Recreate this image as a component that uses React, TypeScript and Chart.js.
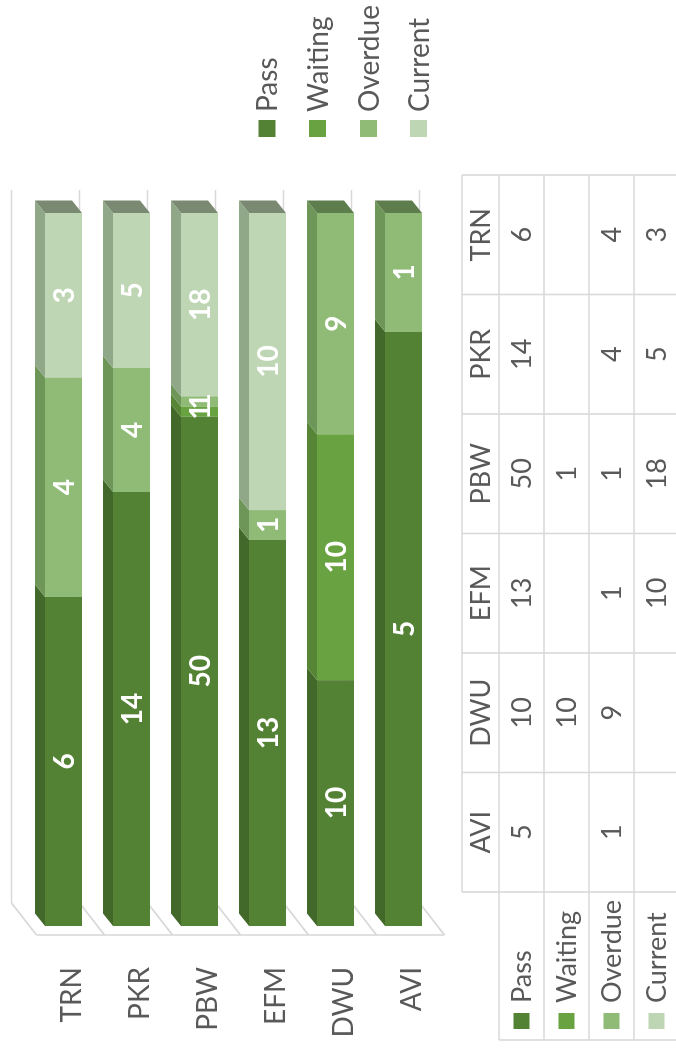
import { useEffect, useRef } from 'react';
import { Chart, registerables } from 'chart.js';

Chart.register(...registerables);

const categories = ['TRN', 'PKR', 'PBW', 'EFM', 'DWU', 'AVI'];
const seriesNames = ['Pass', 'Waiting', 'Overdue', 'Current'];
const passValues = [6, 14, 50, 13, 10, 5];
const waitingValues = [null, null, 1, null, 10, null];
const overdueValues = [4, 4, 1, 1, 9, 1];
const currentValues = [3, 5, 18, 10, null, null];
const tableColumns = ['AVI', 'DWU', 'EFM', 'PBW', 'PKR', 'TRN'];

const frontColors = ['#548235', '#69A240', '#8FBB77', '#BFD6B4'];
const topColors = ['#43692A', '#558535', '#6E9659', '#90A888'];
const capColors = ['#36551F', '#46702A', '#5E7D4C', '#7A8A72'];

const FONT = 'Lato, "Open Sans", sans-serif';
const TEXT = '#595959';
const LINE = '#D9D9D9';

const allSeries = [passValues, waitingValues, overdueValues, currentValues];
const totals = categories.map((_, i) =>
  allSeries.reduce((s, arr) => s + (arr[i] || 0), 0)
);
const pct = (arr: (number | null)[]) =>
  arr.map((v, i) => (v == null ? null : (v / totals[i]) * 100));

const DX = 12.5;
const DY = -10;

const threeD = {
  id: 'threeD',
  beforeDatasetsDraw(chart: any) {
    const ctx = chart.ctx;
    const ca = chart.chartArea;
    const band = (ca.bottom - ca.top) / categories.length;
    ctx.save();
    ctx.strokeStyle = LINE;
    ctx.lineWidth = 1.6;
    for (let k = 0; k <= categories.length; k++) {
      const yb = ca.top - 18 + band * k;
      ctx.beginPath();
      ctx.moveTo(ca.left + 23, yb);
      ctx.lineTo(ca.right + 23, yb);
      ctx.stroke();
      ctx.beginPath();
      ctx.moveTo(ca.left + 23, yb);
      ctx.lineTo(ca.left - 9, ca.top + 7 + band * k);
      ctx.stroke();
    }
    ctx.beginPath();
    ctx.moveTo(ca.left - 9, ca.top + 7);
    ctx.lineTo(ca.left - 9, ca.bottom + 7);
    ctx.stroke();
    ctx.restore();
  },
  afterDatasetsDraw(chart: any) {
    const ctx = chart.ctx;
    ctx.save();
    const lastIdx: number[] = categories.map((_, i) => {
      let last = -1;
      allSeries.forEach((arr, d) => {
        if (arr[i] != null) last = d;
      });
      return last;
    });
    chart.data.datasets.forEach((ds: any, d: number) => {
      const meta = chart.getDatasetMeta(d);
      meta.data.forEach((el: any, i: number) => {
        if (allSeries[d][i] == null) return;
        const p = el.getProps(['x', 'y', 'base', 'height'], true);
        const yTop = p.y - p.height / 2;
        const yBot = p.y + p.height / 2;
        ctx.fillStyle = topColors[d];
        ctx.beginPath();
        ctx.moveTo(p.base, yTop);
        ctx.lineTo(p.x, yTop);
        ctx.lineTo(p.x + DX, yTop + DY);
        ctx.lineTo(p.base + DX, yTop + DY);
        ctx.closePath();
        ctx.fill();
        if (lastIdx[i] === d) {
          ctx.fillStyle = capColors[d];
          ctx.beginPath();
          ctx.moveTo(p.x, yTop);
          ctx.lineTo(p.x + DX, yTop + DY);
          ctx.lineTo(p.x + DX, yBot + DY);
          ctx.lineTo(p.x, yBot);
          ctx.closePath();
          ctx.fill();
        }
      });
    });
    ctx.fillStyle = '#FFFFFF';
    ctx.font = `bold 28px ${FONT}`;
    ctx.textAlign = 'center';
    ctx.textBaseline = 'middle';
    chart.data.datasets.forEach((ds: any, d: number) => {
      const meta = chart.getDatasetMeta(d);
      meta.data.forEach((el: any, i: number) => {
        const v = allSeries[d][i];
        if (v == null) return;
        const p = el.getProps(['x', 'y', 'base'], true);
        ctx.fillText(String(v), (p.x + p.base) / 2, p.y + 1);
      });
    });
    ctx.restore();
  },
  afterDraw(chart: any) {
    const ctx = chart.ctx;
    const yS = chart.scales.y;
    ctx.save();
    // category labels
    ctx.fillStyle = TEXT;
    ctx.font = `28px ${FONT}`;
    ctx.textAlign = 'right';
    ctx.textBaseline = 'middle';
    categories.forEach((c, i) => {
      ctx.fillText(c, 83, yS.getPixelForValue(i) + 8);
    });
    // legend
    const legendY = [267, 317.5, 368.5, 418.5];
    ctx.textAlign = 'left';
    ctx.font = `28px ${FONT}`;
    seriesNames.forEach((n, d) => {
      ctx.fillStyle = frontColors[d];
      ctx.fillRect(913, legendY[d] - 8.5, 17, 17);
      ctx.fillStyle = TEXT;
      ctx.fillText(n, 938, legendY[d] + 1);
    });
    // data table
    const colX = 158;
    const colW = 119.5;
    const rowY = [462, 499, 544, 589, 634, 679];
    ctx.strokeStyle = LINE;
    ctx.lineWidth = 1.6;
    // horizontal lines
    ctx.beginPath();
    ctx.moveTo(colX, rowY[0]);
    ctx.lineTo(colX + colW * 6, rowY[0]);
    for (let r = 1; r < rowY.length; r++) {
      ctx.moveTo(10, rowY[r]);
      ctx.lineTo(colX + colW * 6, rowY[r]);
    }
    ctx.moveTo(10, rowY[1]);
    ctx.lineTo(10, rowY[5]);
    for (let c = 0; c <= 6; c++) {
      ctx.moveTo(colX + colW * c, rowY[0]);
      ctx.lineTo(colX + colW * c, rowY[5]);
    }
    ctx.stroke();
    ctx.fillStyle = TEXT;
    ctx.font = `27px ${FONT}`;
    ctx.textAlign = 'center';
    tableColumns.forEach((c, ci) => {
      const cx = colX + colW * (ci + 0.5);
      ctx.fillStyle = TEXT;
      ctx.fillText(c, cx, (rowY[0] + rowY[1]) / 2 + 1);
      const catIdx = categories.indexOf(c);
      allSeries.forEach((arr, d) => {
        const v = arr[catIdx];
        if (v == null) return;
        ctx.fillText(String(v), cx, (rowY[d + 1] + rowY[d + 2]) / 2 + 1);
      });
    });
    ctx.textAlign = 'left';
    seriesNames.forEach((n, d) => {
      const cy = (rowY[d + 1] + rowY[d + 2]) / 2;
      ctx.fillStyle = frontColors[d];
      ctx.fillRect(21, cy - 8, 16, 16);
      ctx.fillStyle = TEXT;
      ctx.fillText(n, 47, cy + 1);
    });
    ctx.restore();
  },
};

export default function App() {
  const ref = useRef<HTMLCanvasElement | null>(null);
  useEffect(() => {
    if (!ref.current) return;
    const chart = new Chart(ref.current, {
      type: 'bar',
      data: {
        labels: categories,
        datasets: seriesNames.map((n, d) => ({
          label: n,
          data: pct(allSeries[d]),
          backgroundColor: frontColors[d],
          borderWidth: 0,
          barPercentage: 0.545,
          categoryPercentage: 1,
        })),
      },
      options: {
        indexAxis: 'y',
        animation: false,
        responsive: false,
        devicePixelRatio: 1,
        layout: { padding: { left: 124, right: 213, top: 29.5, bottom: 238.5 } },
        scales: {
          x: { stacked: true, min: 0, max: 100, display: false },
          y: { stacked: true, display: false },
        },
        plugins: { legend: { display: false }, tooltip: { enabled: false } },
      },
      plugins: [threeD],
    } as any);
    return () => chart.destroy();
  }, []);
  return (
    <div
      style={{
        position: 'fixed',
        left: 0,
        top: 0,
        width: 676,
        height: 1050,
        overflow: 'hidden',
        background: '#FFFFFF',
      }}
    >
      <canvas
        ref={ref}
        width={1050}
        height={676}
        style={{
          position: 'absolute',
          left: 0,
          top: 0,
          width: 1050,
          height: 676,
          transformOrigin: '0 0',
          transform: 'translate(0px, 1050px) rotate(-90deg)',
        }}
      />
    </div>
  );
}
